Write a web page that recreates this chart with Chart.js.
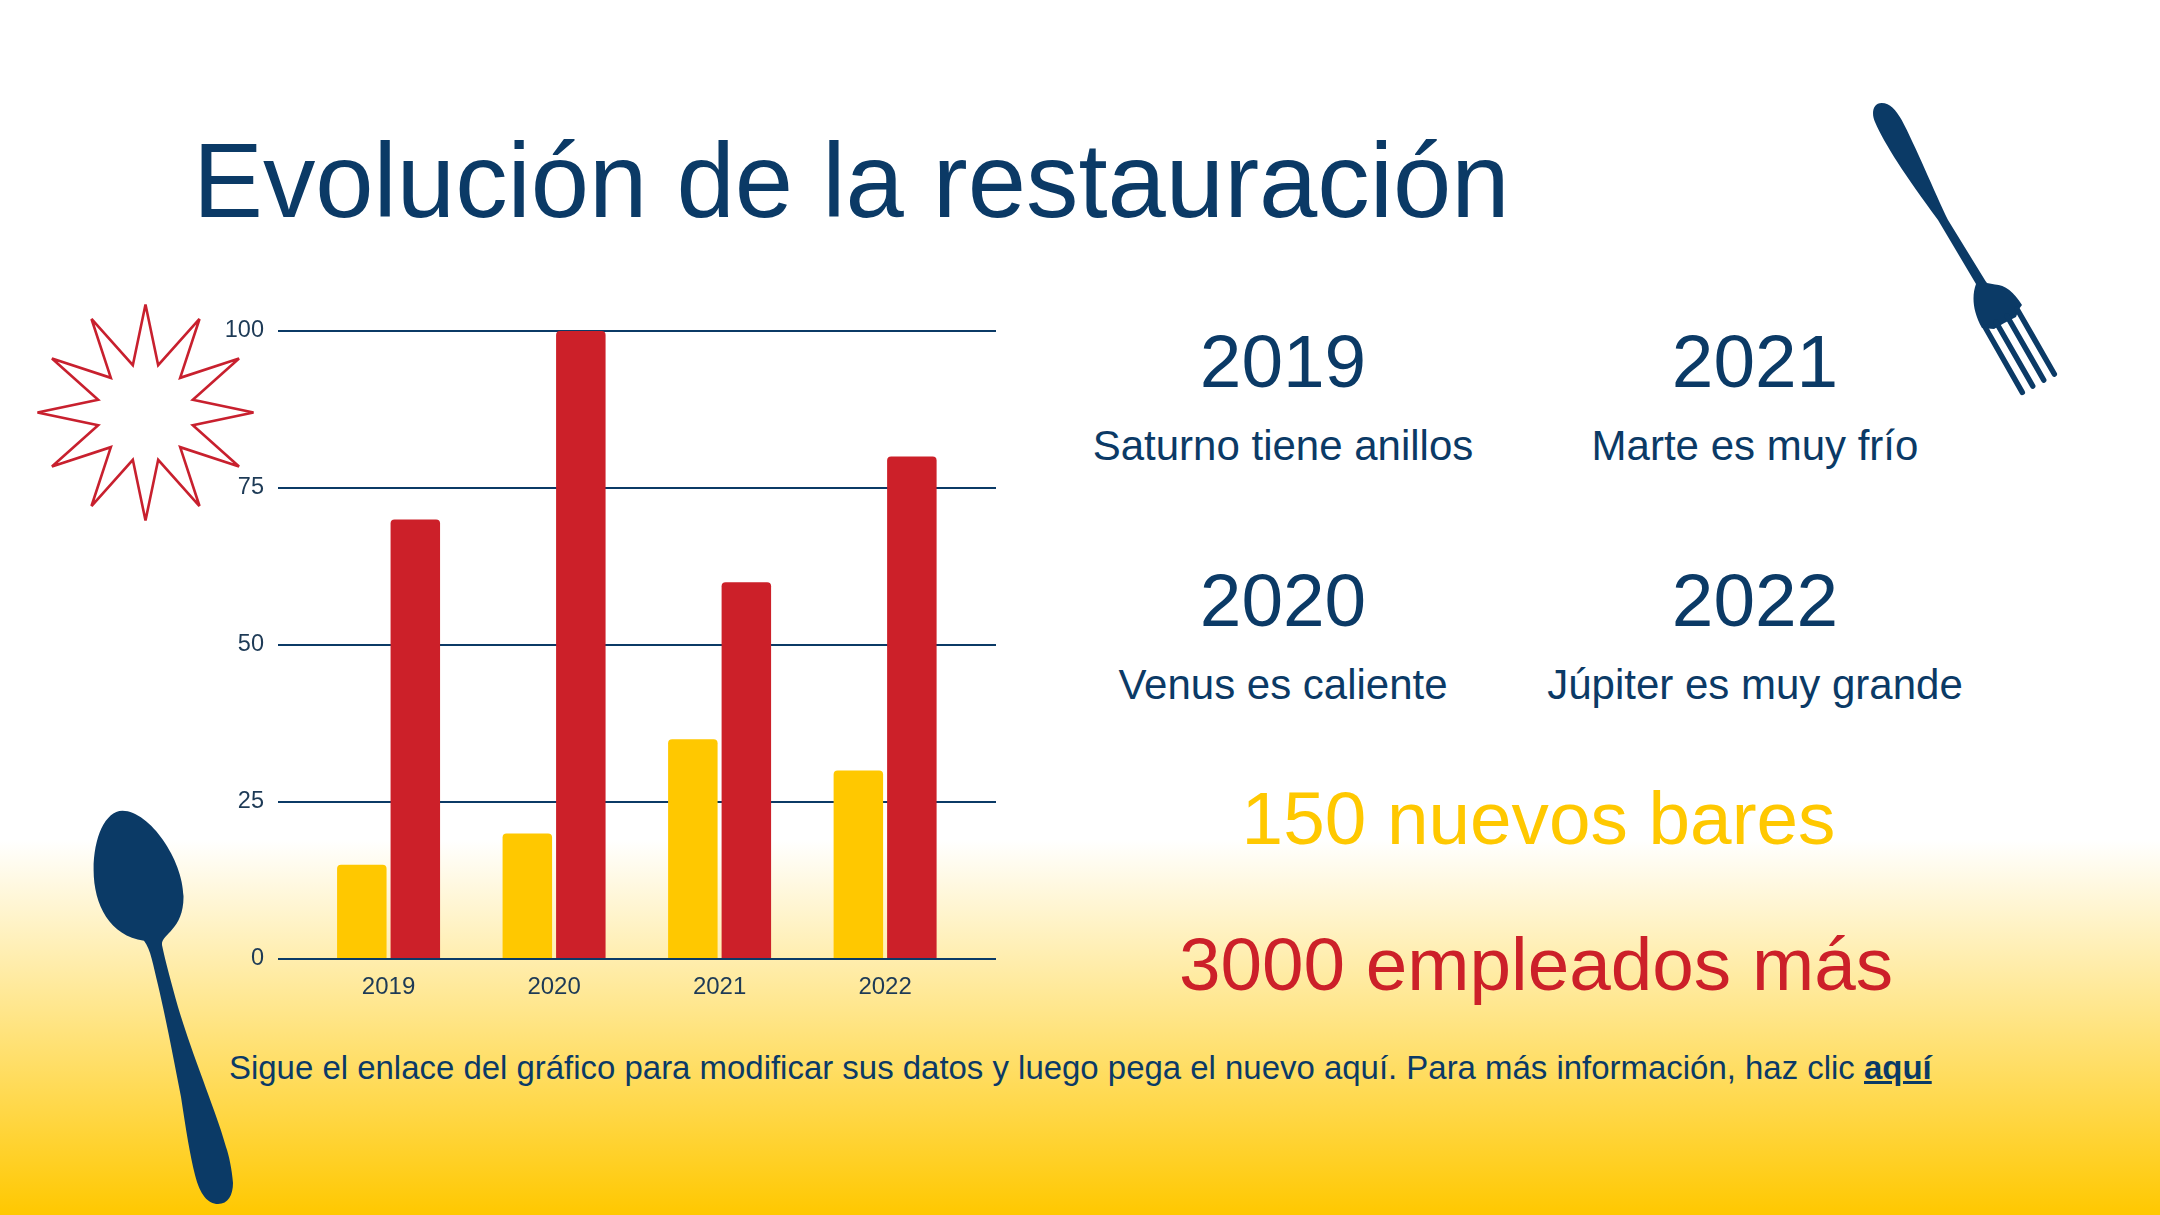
<!DOCTYPE html>
<html lang="es">
<head>
<meta charset="utf-8">
<title>Evolución de la restauración</title>
<script src="https://cdn.jsdelivr.net/npm/chart.js@4"></script>
<style>
  html, body { margin: 0; padding: 0; }
  body {
    position: relative; width: 2160px; height: 1215px; overflow: hidden;
    font-family: "Liberation Sans", Arial, sans-serif; color: #0b3a66;
    background: linear-gradient(to bottom, #ffffff 0, #ffffff 840px, #ffc800 1215px);
  }
  .txt { position: absolute; white-space: nowrap; line-height: 1; }
  .mid { transform: translateX(-50%); }
  .year { font-size: 74.8px; }
  .note { font-size: 42px; }
  .big { font-size: 74.7px; }
  #chartBox { position: absolute; left: 200px; top: 300px; width: 820px; height: 720px; }
  svg { position: absolute; left: 0; top: 0; }
</style>
</head>
<body>
<svg width="2160" height="1215" viewBox="0 0 2160 1215">
  <polygon id="star" fill="none" stroke="#c8202e" stroke-width="2.6" stroke-linejoin="miter"></polygon>
  <path fill="#0b3a66" d="M122.5 810.7 C105 811 93.5 838 93.6 870 C93.7 905 110 936 144 940.7 C151 950 153 965 158 985 C165 1015 172 1050 181 1097 C186 1130 190 1155 195 1175 C200 1195 208 1204 218 1204 C228 1204 233 1195 233 1183 C232 1170 229 1155 226 1147 C220 1125 210 1100 203 1080 C192 1050 185 1030 178 1007 C172 985 165 960 162 945 C161 934 184 930 183.5 896 C183 860 150 811 122.5 810.7 Z"/>
  <path fill="#0b3a66" d="M1881.7 103 C1873 103 1871 113 1875 122 C1885 145 1905 175 1938 220 L1976 284 C1972 295 1972 310 1982 328 L1994 329 L2004.3 323 L2016 317 L2019 309 L2022 305 C2014 292 2005 285 1995 284.5 L1987 283 L1985.5 281 L1948 220 C1935 193 1915 145 1901.7 120 C1896 110 1890 103 1881.7 103 Z"/>
  <g stroke="#0b3a66" stroke-width="5.5" stroke-linecap="round">
    <line x1="1985" y1="327" x2="2022.3" y2="392.3"/>
    <line x1="1996" y1="322" x2="2032.7" y2="386"/>
    <line x1="2007" y1="316" x2="2043.7" y2="380"/>
    <line x1="2017" y1="309" x2="2054.3" y2="374"/>
  </g>
</svg>

<div class="txt" style="left:193px;top:129px;font-size:104.8px">Evolución de la restauración</div>

<div id="chartBox"><canvas id="chart" width="820" height="720"></canvas></div>

<div class="txt mid year" style="left:1283px;top:324px">2019</div>
<div class="txt mid note" style="left:1283px;top:425px">Saturno tiene anillos</div>
<div class="txt mid year" style="left:1755px;top:324px">2021</div>
<div class="txt mid note" style="left:1755px;top:425px">Marte es muy frío</div>
<div class="txt mid year" style="left:1283px;top:563px">2020</div>
<div class="txt mid note" style="left:1283px;top:664px">Venus es caliente</div>
<div class="txt mid year" style="left:1755px;top:563px">2022</div>
<div class="txt mid note" style="left:1755px;top:664px">Júpiter es muy grande</div>
<div class="txt mid big" style="left:1538.5px;top:781px;color:#ffc800">150 nuevos bares</div>
<div class="txt mid big" style="left:1536px;top:927px;color:#cc2029">3000 empleados más</div>
<div class="txt" style="left:229px;top:1052px;font-size:32.95px">Sigue el enlace del gráfico para modificar sus datos y luego pega el nuevo aquí. Para más información, haz clic <b style="text-decoration:underline">aquí</b></div>

<script>
const NAVY = '#0b3a66';
const YEARS = ['2019', '2020', '2021', '2022'];
const BARES = [15, 20, 35, 30];
const EMPLEADOS = [70, 100, 60, 80];

// 12 point star behind the chart's top left corner
const starPoints = [];
for (let i = 0; i < 24; i++) {
  const radius = i % 2 ? 49 : 108;
  const angle = (i * 15 * Math.PI) / 180;
  starPoints.push(`${145.5 + radius * Math.sin(angle)},${412.5 - radius * Math.cos(angle)}`);
}
document.getElementById('star').setAttribute('points', starPoints.join(' '));

function toPoints(values) {
  return values.map((y, x) => ({ x, y }));
}

const barStyle = {
  categoryPercentage: 0.6465,
  barPercentage: 0.925,
  borderRadius: { topLeft: 4, topRight: 4 },
  borderSkipped: 'bottom',
};

new Chart(document.getElementById('chart'), {
  type: 'bar',
  data: {
    datasets: [
      { label: 'Nuevos bares', data: toPoints(BARES), backgroundColor: '#ffc800', ...barStyle },
      { label: 'Empleados', data: toPoints(EMPLEADOS), backgroundColor: '#cc2029', ...barStyle },
    ],
  },
  options: {
    responsive: false,
    animation: false,
    devicePixelRatio: 1,
    layout: { padding: { top: 31, right: 24, left: 0, bottom: 0 } },
    plugins: { legend: { display: false }, tooltip: { enabled: false } },
    scales: {
      x: {
        type: 'linear',
        offset: false,
        min: -0.668,
        max: 3.67,
        afterBuildTicks: (scale) => { scale.ticks = YEARS.map((_, value) => ({ value })); },
        afterFit: (scale) => { scale.height = 61; },
        grid: { display: false },
        border: { display: false },
        ticks: {
          autoSkip: false,
          maxRotation: 0,
          padding: 6,
          color: '#1d3a56',
          font: { family: '"Liberation Sans"', size: 24 },
          callback: (value) => YEARS[value],
        },
      },
      y: {
        min: 0,
        max: 100,
        afterFit: (scale) => { scale.width = 78; },
        border: { display: false },
        grid: { color: NAVY, lineWidth: 2, drawTicks: false },
        ticks: {
          stepSize: 25,
          padding: 14,
          color: '#1d3a56',
          font: { family: '"Liberation Sans"', size: 23.5 },
        },
      },
    },
  },
});
</script>
</body>
</html>
